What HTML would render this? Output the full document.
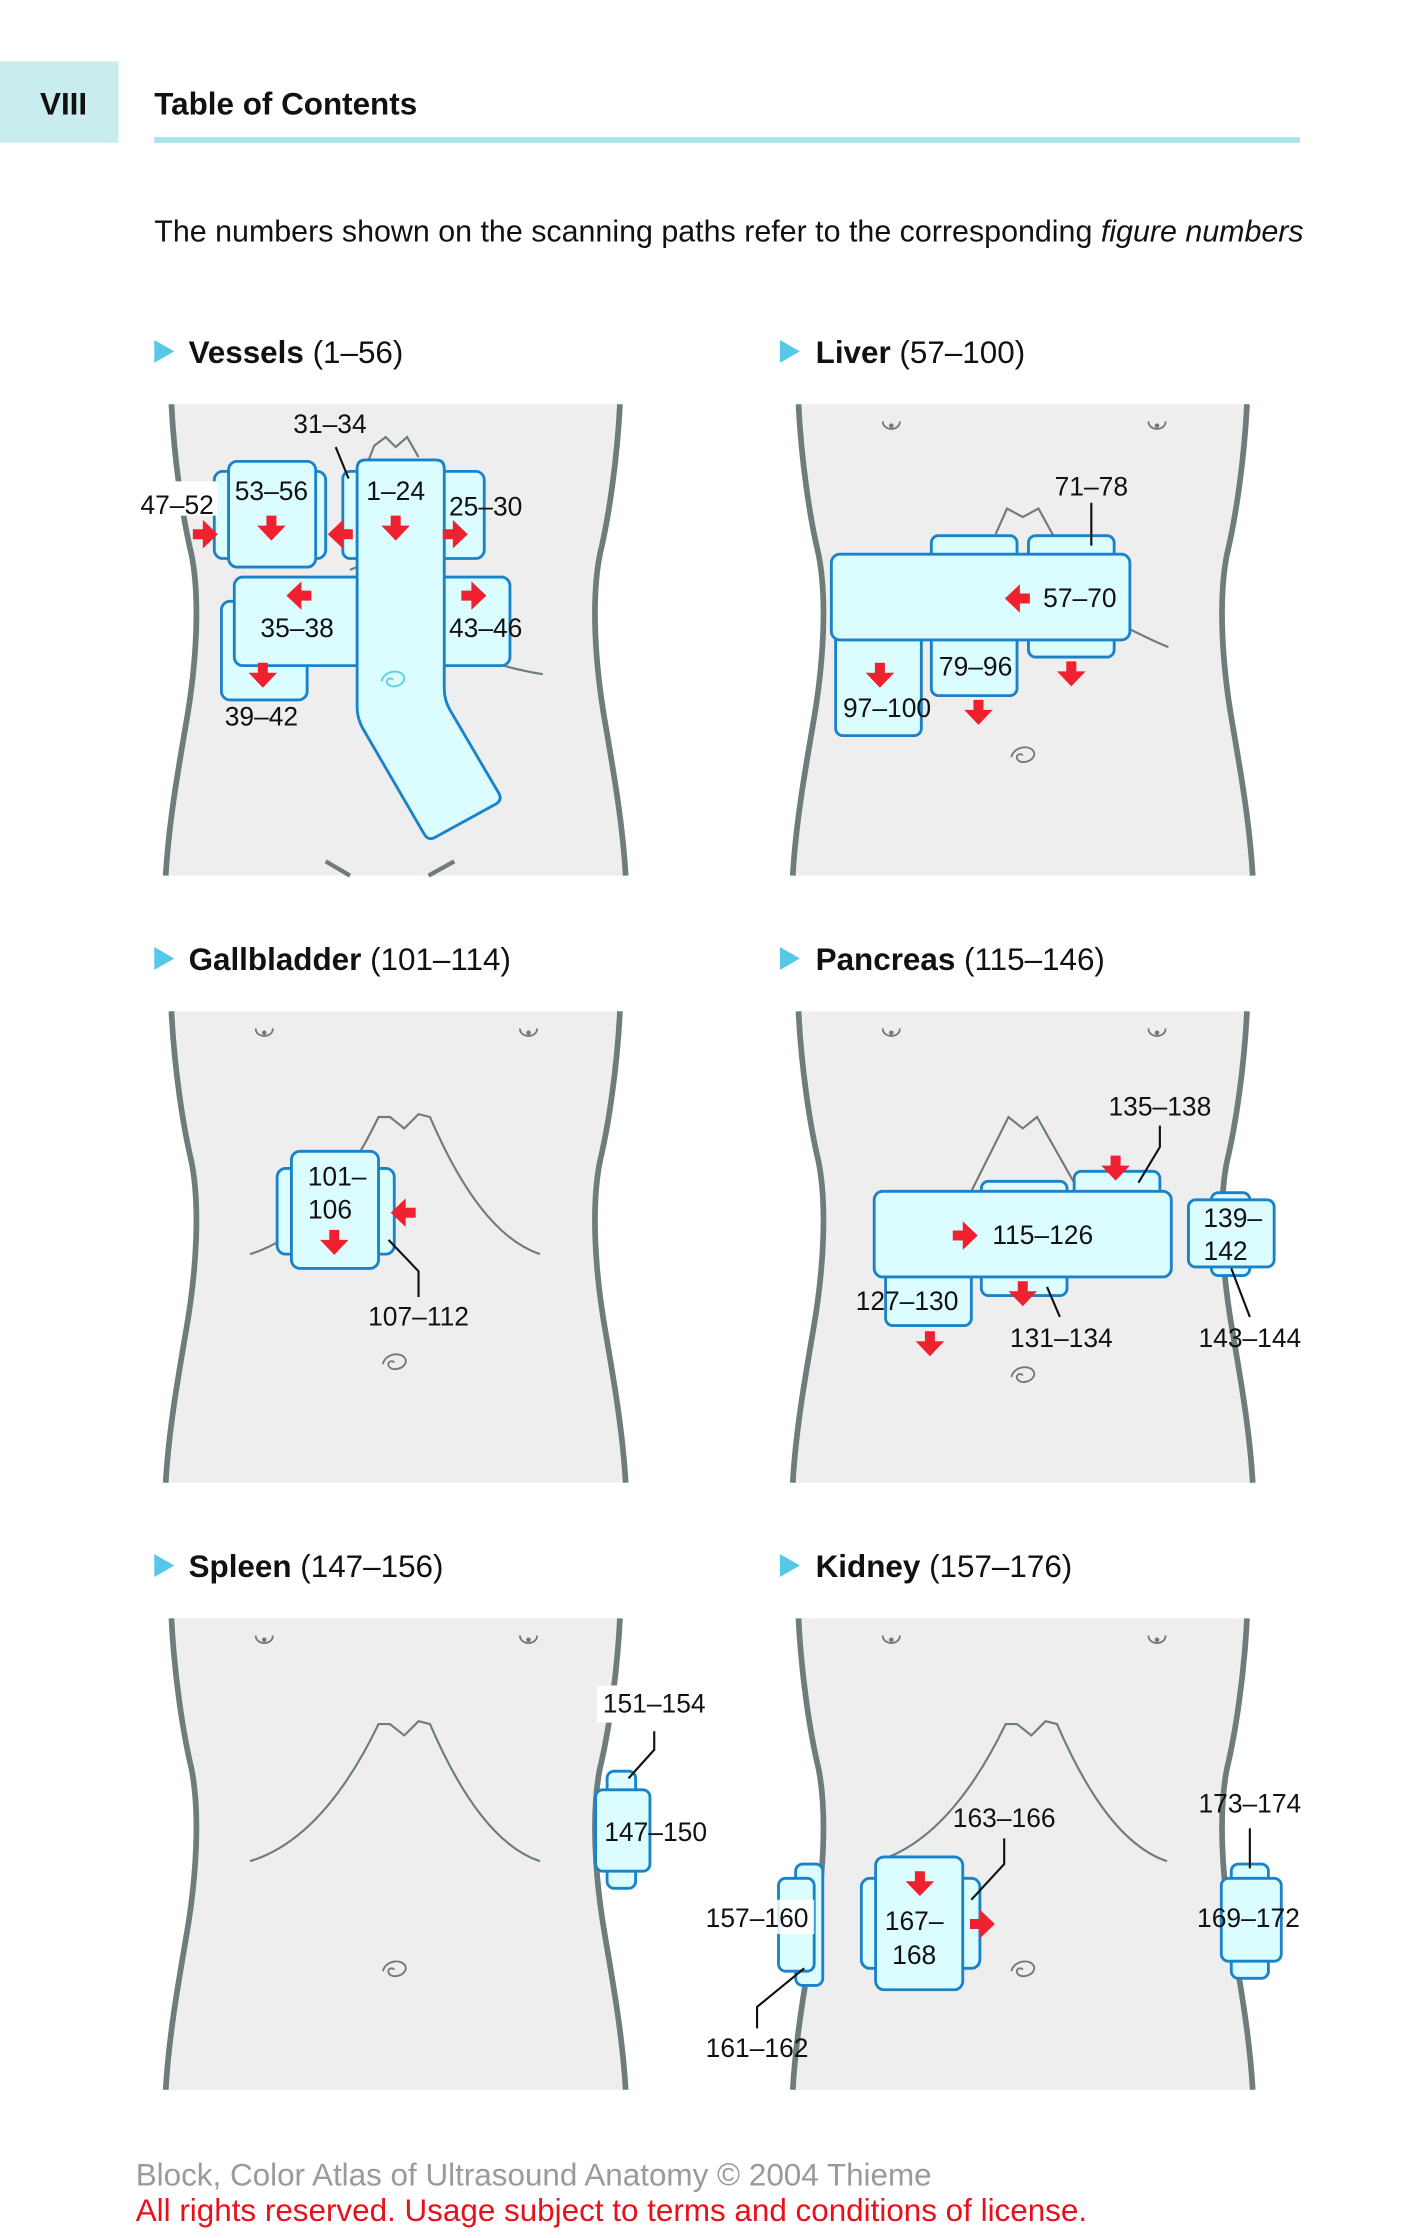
<!DOCTYPE html>
<html><head><meta charset="utf-8"><style>
html,body{margin:0;padding:0;background:#fff}
svg{display:block}
text{font-family:"Liberation Sans",sans-serif;fill:#111}
.l{font-size:18.5px;text-anchor:middle}
.b{fill:#dcfdff;stroke:#1a82c8;stroke-width:2}
.o{fill:none;stroke:#6e7c7c;stroke-width:4}
.t{fill:none;stroke:#6e7c7c;stroke-width:1.5}
.k{fill:none;stroke:#111;stroke-width:1.5}
.h{font-size:22px}
</style></head><body>
<svg width="1417" height="2238" viewBox="0 0 992 1566.8" xmlns="http://www.w3.org/2000/svg">
<defs>
<path id="ad" d="M-3.5,-10 h7 v7 h6.5 l-10,10.5 l-10,-10.5 h6.5z" fill="#f0212f"/>
<g id="torso">
<path d="M2,0 C4,40 10,80 16,105 C22,135 20,180 12,225 C6,260 0,295 -2,330 L320,330 C318,295 312,260 306,225 C298,180 296,135 302,105 C308,80 314,40 316,0 Z" fill="#eeeeee"/>
<path class="o" d="M2,0 C4,40 10,80 16,105 C22,135 20,180 12,225 C6,260 0,295 -2,330"/>
<path class="o" d="M316,0 C314,40 308,80 302,105 C296,135 298,180 306,225 C312,260 318,295 320,330"/>
</g>
<g id="nip"><path d="M-6,-3 C-6,4 6,4 6,-3" fill="none" stroke="#777" stroke-width="1.3"/><circle r="1.6" cx="0" cy="0" fill="#777"/></g>
<g id="nav"><path d="M-8,2 C-6,-6 6,-7 8,-1 C9,5 -2,8 -4,3 C-5,0 -1,-1 0,1" fill="none" stroke="#777" stroke-width="1.3"/></g>
<g id="rib"><path class="t" d="M57,170 C90,160 120,130 147,74 L155,74 L165,82 L175,72 L183,74 C205,125 230,160 260,170"/></g>
</defs>

<rect x="0" y="43" width="83" height="57" fill="#c9ecef"/>
<text x="28" y="80" style="font-size:22px;font-weight:bold">VIII</text>
<text x="108" y="80" style="font-size:22px;font-weight:bold">Table of Contents</text>
<rect x="108" y="96" width="802" height="4" fill="#a8e4ea"/>
<text x="108" y="169" style="font-size:21.3px">The numbers shown on the scanning paths refer to the corresponding <tspan font-style="italic">figure numbers</tspan></text>

<g>
<path d="M108,238 l14,8 l-14,8z" fill="#55c8e8"/><text x="132" y="254" class="h"><tspan font-weight="bold">Vessels</tspan>  (1–56)</text>
<path d="M546,238 l14,8 l-14,8z" fill="#55c8e8"/><text x="571" y="254" class="h"><tspan font-weight="bold">Liver</tspan>  (57–100)</text>
<path d="M108,663 l14,8 l-14,8z" fill="#55c8e8"/><text x="132" y="679" class="h"><tspan font-weight="bold">Gallbladder</tspan>  (101–114)</text>
<path d="M546,663 l14,8 l-14,8z" fill="#55c8e8"/><text x="571" y="679" class="h"><tspan font-weight="bold">Pancreas</tspan>  (115–146)</text>
<path d="M108,1088 l14,8 l-14,8z" fill="#55c8e8"/><text x="132" y="1104" class="h"><tspan font-weight="bold">Spleen</tspan>  (147–156)</text>
<path d="M546,1088 l14,8 l-14,8z" fill="#55c8e8"/><text x="571" y="1104" class="h"><tspan font-weight="bold">Kidney</tspan>  (157–176)</text>
</g>

<!-- VESSELS -->
<use href="#torso" x="118" y="283"/>
<path class="t" d="M255,330 L262,312 L270,306 L277,313 L285,306 L293,320 M311,450 C330,460 355,468 380,472 M245,399 L262,392"/>
<path class="t" d="M228,603 L245,613 M300,613 L318,603" style="stroke-width:3"/>
<rect class="b" x="150" y="330" width="78" height="61" rx="6"/>
<rect class="b" x="160" y="323" width="61" height="74" rx="6"/>
<rect class="b" x="240" y="330" width="20" height="61" rx="5"/>
<rect class="b" x="290" y="330" width="49" height="61" rx="6"/>
<rect class="b" x="155" y="421" width="60" height="69" rx="6"/>
<rect class="b" x="280" y="404" width="77" height="62" rx="6"/>
<rect class="b" x="164" y="404" width="100" height="62" rx="6"/>
<path class="b" d="M256,322 L305,322 Q311,322 311,328 L311,482 Q311,490 315,497 L349,555 Q352,560 347,563 L305,586 Q300,589 297,584 L254,510 Q250,503 250,495 L250,328 Q250,322 256,322Z"/>
<g transform="translate(275,475)"><path d="M-8,2 C-6,-6 6,-7 8,-1 C9,5 -2,8 -4,3 C-5,0 -1,-1 0,1" fill="none" stroke="#5cd0e6" stroke-width="1.3"/></g>
<use href="#ad" transform="translate(190,371)"/>
<use href="#ad" transform="translate(277,371)"/>
<use href="#ad" transform="translate(184,474)"/>
<use href="#ad" transform="translate(145,374) rotate(-90)"/>
<use href="#ad" transform="translate(320,374) rotate(-90)"/>
<use href="#ad" transform="translate(237,374) rotate(90)"/>
<use href="#ad" transform="translate(208,417) rotate(90)"/>
<use href="#ad" transform="translate(333,417) rotate(-90)"/>
<rect x="96" y="337" width="56" height="24" fill="#fff"/>
<text class="l" x="124" y="360">47–52</text>
<text class="l" x="231" y="303">31–34</text>
<path class="k" d="M235,313 L244,335"/>
<text class="l" x="190" y="350">53–56</text>
<text class="l" x="277" y="350">1–24</text>
<text class="l" x="340" y="361">25–30</text>
<text class="l" x="208" y="446">35–38</text>
<text class="l" x="340" y="446">43–46</text>
<text class="l" x="183" y="508">39–42</text>

<!-- LIVER -->
<use href="#torso" x="557" y="283"/>
<use href="#nip" x="624" y="298"/><use href="#nip" x="810" y="298"/>
<use href="#nav" x="716" y="528"/>
<path class="t" d="M697,374 L705,356 L716,362 L727,356 L738,376 M790,440 C800,445 810,450 818,453"/>
<rect class="b" x="652" y="375" width="60" height="30" rx="5"/>
<rect class="b" x="720" y="375" width="60" height="30" rx="5"/>
<rect class="b" x="652" y="430" width="60" height="57" rx="5"/>
<rect class="b" x="720" y="430" width="60" height="30" rx="5"/>
<rect class="b" x="585" y="440" width="60" height="75" rx="5"/>
<rect class="b" x="582" y="388" width="209" height="60" rx="6"/>
<text class="l" x="764" y="347">71–78</text>
<path class="k" d="M764,352 L764,382"/>
<use href="#ad" transform="translate(711,419) rotate(90)"/>
<text class="l" x="756" y="425">57–70</text>
<text class="l" x="683" y="473">79–96</text>
<text class="l" x="621" y="502">97–100</text>
<use href="#ad" transform="translate(616,474)"/>
<use href="#ad" transform="translate(685,500)"/>
<use href="#ad" transform="translate(750,473)"/>

<!-- GALLBLADDER -->
<use href="#torso" x="118" y="708"/>
<use href="#nip" x="185" y="723"/><use href="#nip" x="370" y="723"/>
<use href="#nav" x="276" y="953"/>
<use href="#rib" x="118" y="708"/>
<rect class="b" x="194" y="818" width="82" height="60" rx="6"/>
<rect class="b" x="204" y="806" width="61" height="82" rx="6"/>
<text class="l" x="236" y="830">101–</text>
<text class="l" x="231" y="853">106</text>
<use href="#ad" transform="translate(281,849) rotate(90)"/>
<use href="#ad" transform="translate(234,871)"/>
<path class="k" d="M272,868 L293,890 L293,908"/>
<text class="l" x="293" y="928">107–112</text>

<!-- PANCREAS -->
<use href="#torso" x="557" y="708"/>
<use href="#nip" x="624" y="723"/><use href="#nip" x="810" y="723"/>
<use href="#nav" x="716" y="962"/>
<path class="t" d="M680,834 L706,782 L716,790 L726,782 L752,828"/>
<rect class="b" x="687" y="827" width="60" height="20" rx="5"/>
<rect class="b" x="752" y="820" width="60" height="25" rx="5"/>
<rect class="b" x="687" y="880" width="60" height="27" rx="5"/>
<rect class="b" x="620" y="880" width="60" height="48" rx="5"/>
<rect class="b" x="612" y="834" width="208" height="60" rx="6"/>
<rect class="b" x="848" y="835" width="27" height="58" rx="5"/>
<rect class="b" x="832" y="840" width="60" height="47" rx="5"/>
<use href="#ad" transform="translate(677,865) rotate(-90)"/>
<text class="l" x="730" y="871">115–126</text>
<use href="#ad" transform="translate(781,819)"/>
<use href="#ad" transform="translate(716,907)"/>
<use href="#ad" transform="translate(651,942)"/>
<text class="l" x="812" y="781">135–138</text>
<path class="k" d="M812,788 L812,803 L797,828"/>
<text class="l" x="635" y="917">127–130</text>
<text class="l" x="743" y="943">131–134</text>
<path class="k" d="M733,901 L742,922"/>
<text class="l" x="863" y="859">139–</text>
<text class="l" x="858" y="882">142</text>
<path class="k" d="M862,888 L875,922"/>
<text class="l" x="875" y="943">143–144</text>

<!-- SPLEEN -->
<use href="#torso" x="118" y="1133"/>
<use href="#nip" x="185" y="1148"/><use href="#nip" x="370" y="1148"/>
<use href="#nav" x="276" y="1378"/>
<use href="#rib" x="118" y="1133"/>
<rect x="418" y="1180" width="80" height="26" fill="#fff"/>
<text class="l" x="458" y="1199">151–154</text>
<rect class="b" x="425" y="1240" width="20" height="82" rx="5"/>
<rect class="b" x="417" y="1253" width="38" height="57" rx="5"/>
<path class="k" d="M458,1212 L458,1225 L440,1245"/>
<text class="l" x="459" y="1289">147–150</text>

<!-- KIDNEY -->
<use href="#torso" x="557" y="1133"/>
<use href="#nip" x="624" y="1148"/><use href="#nip" x="810" y="1148"/>
<use href="#nav" x="716" y="1378"/>
<use href="#rib" x="557" y="1133"/>
<rect class="b" x="557" y="1305" width="19" height="85" rx="5"/>
<rect class="b" x="545" y="1315" width="25" height="65" rx="5"/>
<rect x="492" y="1330" width="78" height="24" fill="#fff" opacity="0.85"/>
<text class="l" x="530" y="1349">157–160</text>
<path class="k" d="M530,1420 L530,1405 L563,1378"/>
<text class="l" x="530" y="1440">161–162</text>
<rect class="b" x="603" y="1315" width="83" height="63" rx="6"/>
<rect class="b" x="613" y="1300" width="61" height="93" rx="6"/>
<use href="#ad" transform="translate(644,1320)"/>
<use href="#ad" transform="translate(689,1347) rotate(-90)"/>
<text class="l" x="640" y="1351">167–</text>
<text class="l" x="640" y="1375">168</text>
<text class="l" x="703" y="1279">163–166</text>
<path class="k" d="M703,1287 L703,1305 L680,1330"/>
<rect class="b" x="862" y="1305" width="26" height="80" rx="5"/>
<rect class="b" x="855" y="1315" width="42" height="58" rx="5"/>
<text class="l" x="875" y="1269">173–174</text>
<path class="k" d="M875,1280 L875,1308"/>
<text class="l" x="874" y="1349">169–172</text>

<text x="95" y="1530" style="font-size:22px;fill:#9a9a9a">Block, Color Atlas of Ultrasound Anatomy © 2004 Thieme</text>
<text x="95" y="1555" style="font-size:22px;fill:#e8101a">All rights reserved. Usage subject to terms and conditions of license.</text>
</svg>
</body></html>
